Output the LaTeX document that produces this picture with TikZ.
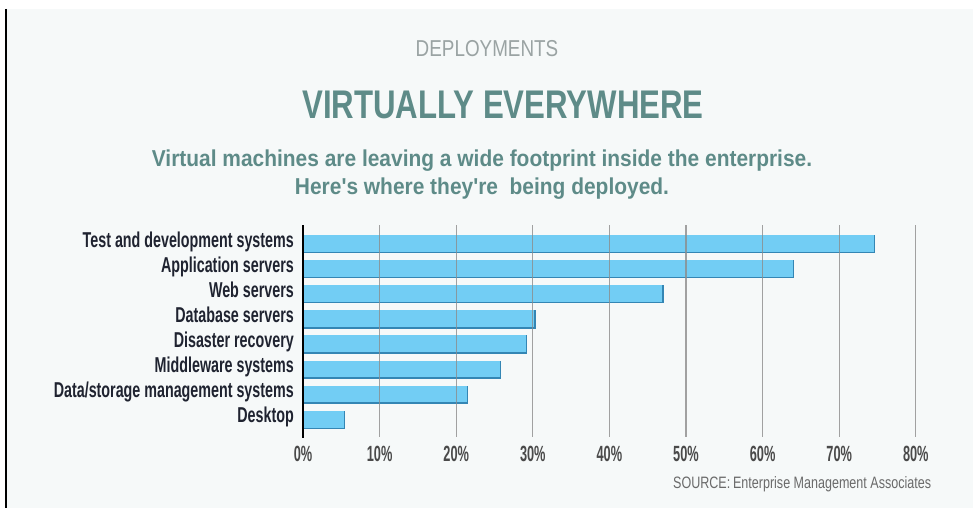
\documentclass[tikz,border=0pt]{standalone}
\usepackage{fontspec}
\setmainfont{Liberation Sans}
\newfontfamily\kickerfont{Liberation Sans}[FakeStretch=0.82]
\newfontfamily\titlefont{Liberation Sans}[FakeStretch=0.78]
\newfontfamily\subfont{Liberation Sans}[FakeStretch=0.91]
\newfontfamily\labfont{Liberation Sans}[FakeStretch=0.665]
\newfontfamily\tickfont{Liberation Sans}[FakeStretch=0.58]
\newfontfamily\srcfont{Liberation Sans}[FakeStretch=0.76]

\definecolor{panel}{HTML}{F6F9F9}
\definecolor{kicker}{HTML}{9AA3A3}
\definecolor{teal}{HTML}{5E8B88}
\definecolor{barfill}{HTML}{72CDF4}
\definecolor{baredge}{HTML}{3486B4}
\definecolor{gridgray}{HTML}{8C8C8C}
\definecolor{labink}{HTML}{1F2330}
\definecolor{tickink}{HTML}{4A4A4A}
\definecolor{srcink}{HTML}{6A6A6A}

\begin{document}
\begin{tikzpicture}[x=1pt,y=-1pt,
  catlabel/.style={anchor=base east,inner sep=0pt,text=labink,font=\labfont\bfseries\fontsize{21.5}{21.5}\selectfont},
  ticklabel/.style={anchor=base,inner sep=0pt,text=tickink,font=\tickfont\bfseries\fontsize{22}{22}\selectfont},
  gridline/.style={draw=gridgray,line width=1.1pt,opacity=0.8},
  barbody/.style={fill=barfill,draw=none},
  baredgeline/.style={draw=baredge,line width=1.4pt}
]
\useasboundingbox (0,0) rectangle (973,508);
\fill[white] (0,0) rectangle (973,508);
\fill[panel] (7,9) rectangle (973,508);
\draw[black,line width=2pt] (5.5,9) -- (5.5,508);

% headings
\node[anchor=base,inner sep=0pt,text=kicker,font=\kickerfont\fontsize{23}{23}\selectfont] (kick) at (487,57) {DEPLOYMENTS};
\node[anchor=base,inner sep=0pt,text=teal,font=\titlefont\bfseries\fontsize{40}{40}\selectfont] (title) at (503,118) {VIRTUALLY EVERYWHERE};
\node[anchor=base,inner sep=0pt,text=teal,font=\subfont\bfseries\fontsize{23}{23}\selectfont] (sub1) at (482,166) {Virtual machines are leaving a wide footprint inside the enterprise.};
\node[anchor=base,inner sep=0pt,text=teal,font=\subfont\bfseries\fontsize{23}{23}\selectfont] (sub2) at (482,194) {Here's where they're\ \ being deployed.};

% bars: value (percent) and label
\foreach \v [count=\k from 0] in {74.6,64.0,47.0,30.3,29.2,25.8,21.5,5.4}{
  \pgfmathsetmacro\top{235+25.1*\k}
  \pgfmathsetmacro\bot{\top+17.5}
  \pgfmathsetmacro\xe{303+7.66*\v}
  \path[barbody] (303,\top) rectangle (\xe,\bot);
  \draw[baredgeline] (303,\bot) -- (\xe,\bot) -- (\xe,\top);
}

% grid lines and tick labels
\foreach \i in {1,...,8}{
  \pgfmathsetmacro\gx{303+76.6*\i}
  \draw[gridline] (\gx,225) -- (\gx,437);
}
\foreach \i in {0,...,8}{
  \pgfmathsetmacro\gx{303+76.6*\i}
  \pgfmathtruncatemacro\pc{10*\i}
  \node[ticklabel] (tick\i) at (\gx,461) {\pc\%};
}
\draw[black,line width=1.6pt] (303,225) -- (303,438);

% category labels
\node[catlabel] (l0) at (294,247.0) {Test and development systems};
\node[catlabel] (l1) at (294,272.1) {Application servers};
\node[catlabel] (l2) at (294,297.2) {Web servers};
\node[catlabel] (l3) at (294,322.3) {Database servers};
\node[catlabel] (l4) at (294,347.4) {Disaster recovery};
\node[catlabel] (l5) at (294,372.5) {Middleware systems};
\node[catlabel] (l6) at (294,397.6) {Data/storage management systems};
\node[catlabel] (l7) at (294,422.7) {Desktop};

% source line
\node[anchor=base west,inner sep=0pt,text=srcink,font=\srcfont\fontsize{16.5}{16.5}\selectfont] (src) at (673,488) {SOURCE:\,Enterprise Management Associates};
\end{tikzpicture}
\end{document}
